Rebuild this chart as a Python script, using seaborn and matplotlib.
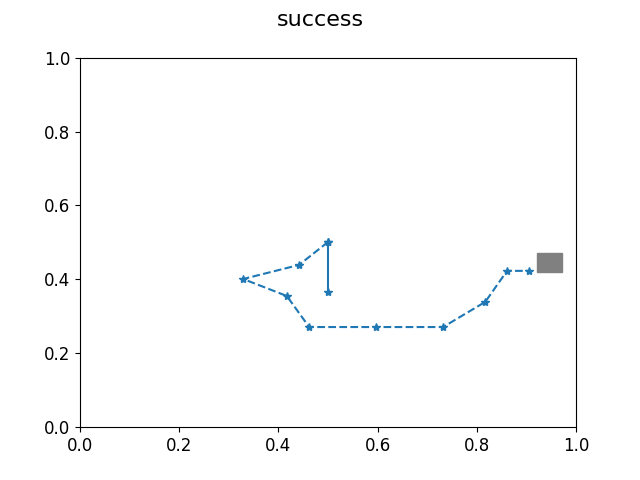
import matplotlib
matplotlib.use('Agg')
import matplotlib.pyplot as plt
import seaborn as sns
from matplotlib.patches import Rectangle

# path points
start_x = [0.5, 0.5]
start_y = [0.366, 0.501]

path_x = [0.5, 0.4415, 0.329, 0.417, 0.462, 0.597, 0.732, 0.817, 0.861, 0.905]
path_y = [0.501, 0.439, 0.401, 0.355, 0.271, 0.271, 0.271, 0.339, 0.423, 0.423]

# goal box
goal_xy = (0.922, 0.42)
goal_w, goal_h = 0.05, 0.05

fig, ax = plt.subplots(figsize=(6.4, 4.8), dpi=100)

line_kws = dict(color='C0', marker='*', markeredgecolor='C0', markeredgewidth=1,
                markersize=6, sort=False, estimator=None, ax=ax)
sns.lineplot(x=start_x, y=start_y, linestyle='-', **line_kws)
sns.lineplot(x=path_x, y=path_y, linestyle='--', **line_kws)

ax.add_patch(Rectangle(goal_xy, goal_w, goal_h, color='gray'))

ax.set_xlim(0, 1)
ax.set_ylim(0, 1)
ax.tick_params(labelsize=12)
fig.suptitle('success', fontsize=16)

plt.savefig('out.png', dpi=100)
